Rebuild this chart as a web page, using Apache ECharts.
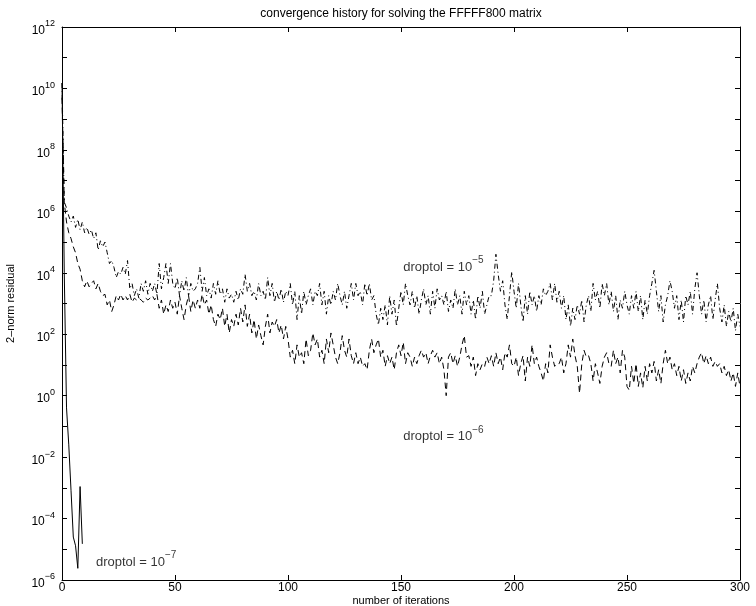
<!DOCTYPE html>
<html><head><meta charset="utf-8">
<script src="https://cdn.jsdelivr.net/npm/echarts@6/dist/echarts.min.js"></script>
<style>html,body{margin:0;padding:0;background:#fff}#c{width:756px;height:606px}</style>
</head><body><div id="c"></div>
<script>
const titleText = 'convergence history for solving the FFFFF800 matrix';
const xAxisName = 'number of iterations';
const yAxisName = '2\u2013norm residual';
const xMin = 0, xMax = 300, xStep = 50;
const yMinExp = -6, yMaxExp = 12;

// droptol = 1e-5 (dash-dot)
const residualTol5 = [
 1.5e10, 2e6, 1.3e6, 7e5, 4.5e5, 7e5, 3e5, 5.5e5, 2.5e5, 4.5e5,
 2e5, 3e5, 1.8e5, 2.5e5, 1.3e5, 2e5, 5.5e4, 1.1e5, 7e4, 1e5,
 4.5e4, 2e4, 2.5e4, 1.5e4, 7e3, 1.1e4, 9e3, 1.5e4, 9e3, 2.5e4,
 3e3, 4.5e3, 1.8e3, 3e3, 1.5e3, 4.5e3, 2.5e3, 5.5e3, 2e3, 4.5e3,
 2.5e3, 4.5e3, 2e3, 2e4, 3e3, 7e3, 2e4, 4.5e3, 2e4, 4.5e3,
 3e3, 7e3, 1.8e3, 5.5e3, 2.5e3, 7e3, 1.8e3, 4.5e3, 2.5e3, 3e3,
 4.5e3, 1.5e4, 2.5e3, 7e3, 1.8e3, 3e3, 1.5e3, 4.5e3, 2e3, 5.5e3,
 2e3, 3e3, 1.1e3, 3e3, 1.5e3, 2e3, 1.1e3, 2.5e3, 1.3e3, 3e3,
 2e3, 9e3, 2.5e3, 4.5e3, 1.8e3, 2.5e3, 1.3e3, 4.5e3, 1.8e3, 2.5e3,
 1.3e3, 7e3, 1.8e3, 4.5e3, 1.1e3, 2.5e3, 1.3e3, 3e3, 1.1e3, 2.5e3,
 1.8e3, 4.5e3, 9e2, 2.5e3, 3e2, 1.8e3, 4.5e2, 2.5e3, 9e2, 1.8e3,
 3e3, 9e2, 2.5e3, 1.8e3, 4.5e3, 9e2, 2.5e3, 4.5e2, 1.8e3, 9e2,
 2.5e3, 1.3e3, 4.5e3, 1.8e3, 9e2, 2.5e3, 7e2, 1.8e3, 4.5e3, 1.3e3,
 4.5e3, 1.8e3, 2.5e3, 9e2, 4.5e3, 1.8e3, 4.5e3, 1.3e3, 1.8e3, 4.5e2,
 2e2, 7e2, 3e2, 9e2, 2e2, 1.8e3, 4.5e2, 1.3e3, 1.8e2, 7e2,
 2.5e3, 9e2, 4.5e3, 1.8e3, 9e2, 2.5e3, 7e2, 1.8e3, 4.5e2, 1.3e3,
 3e3, 9e2, 1.8e3, 4.5e2, 2.5e3, 7e2, 3e3, 1.3e3, 1.8e3, 9e2,
 2.5e3, 5.5e2, 1.3e3, 7e2, 3e3, 9e2, 1.8e3, 4.5e2, 2.5e3, 9e2,
 1.8e3, 4.5e2, 1.3e3, 3e2, 1.8e3, 7e2, 2.5e3, 4.5e2, 9e2, 1.8e3,
 1.8e3, 5.5e3, 4e4, 9e3, 2.5e3, 5.5e3, 9e2, 3e2, 1.8e3, 1.1e4,
 2.5e3, 7e2, 4.5e3, 9e2, 2.5e2, 1.8e3, 4.5e2, 2.5e3, 9e2, 1.8e3,
 5.5e2, 1.8e3, 9e2, 3e3, 1.8e3, 2.5e3, 4.5e3, 1.3e3, 4.5e3, 1.1e3,
 2.5e3, 7e2, 1.8e3, 3e2, 9e2, 1.8e2, 7e2, 3e2, 9e2, 4.5e2,
 1.3e3, 2.5e2, 9e2, 1.8e3, 5.5e2, 4.5e3, 1.3e3, 2.5e3, 7e2, 4.5e3,
 1.8e3, 4.5e3, 9e2, 2.5e3, 5.5e2, 1.8e3, 3e2, 1.3e3, 7e2, 2.5e3,
 9e2, 4.5e2, 1.8e3, 7e2, 2.5e3, 5.5e2, 1.8e3, 3e2, 1.3e3, 4.5e2,
 1.8e3, 4.5e3, 1.2e4, 2.5e3, 5.5e2, 1.8e3, 2.5e2, 9e2, 1.8e3, 5.5e3,
 2.5e3, 7e2, 1.8e3, 3e2, 1.3e3, 2.5e2, 1.8e3, 9e2, 2.5e3, 4.5e2,
 3e3, 1e4, 1.8e3, 4.5e2, 1.3e3, 2.5e2, 9e2, 1.8e3, 3e2, 1.3e3,
 4.5e3, 7e2, 2.5e2, 9e2, 1.8e2, 5.5e2, 2.5e2, 7e2, 1.3e2, 4.5e2, 1.8e2
];

// droptol = 1e-6 (dashed)
const residualTol6 = [
 5e9, 2e6, 4.5e5, 2e5, 1.3e5, 7e4, 4.5e4, 2e4, 1.3e4, 5.5e3,
 3.5e3, 5.5e3, 3.5e3, 4.5e3, 5.5e3, 3e3, 4.5e3, 2.5e3, 1.8e3, 2e3,
 9e2, 1.3e3, 5.5e2, 9e2, 1.8e3, 1.3e3, 2e3, 1.3e3, 1.8e3, 1.3e3,
 2e3, 1.1e3, 1.5e3, 1.3e3, 1.5e3, 1.3e3, 1.1e3, 1.5e3, 1.3e3, 1.5e3,
 1.8e3, 1.3e3, 2e3, 7e2, 1.3e3, 4.5e2, 9e2, 5.5e2, 1.3e3, 7e2,
 1.1e3, 4.5e2, 1.8e3, 7e2, 3e2, 9e2, 1.8e3, 5.5e2, 1.3e3, 7e2,
 1.3e3, 7e2, 2e3, 9e2, 1.3e3, 4.5e2, 9e2, 3e2, 1.8e2, 4.5e2,
 3e2, 7e2, 1.8e2, 4.5e2, 1.1e2, 3e2, 1.8e2, 4.5e2, 2e2, 7e2,
 2.5e2, 9e2, 1.8e2, 4.5e2, 1.1e2, 3e2, 7e1, 2e2, 9e1, 4.5e1,
 1.8e2, 4.5e2, 1.1e2, 2.5e2, 1.8e2, 3e2, 1.1e2, 2e2, 7e1, 1.8e2,
 7e1, 1.8e1, 3e1, 1.1e1, 4.5e1, 1.8e1, 2.5e1, 1.1e1, 7e1, 2e1,
 3e1, 1.1e2, 4.5e1, 7e1, 1.8e1, 3e1, 1.1e1, 7e1, 2.5e1, 1.1e2,
 4.5e1, 1.8e1, 1.1e1, 2.5e1, 9e1, 3e1, 1.8e1, 7e1, 2e1, 1.1e1,
 2.5e1, 1.1e1, 1.8e1, 9e0, 1.1e1, 7e0, 3e1, 7e1, 2.5e1, 4.5e1,
 7e1, 1.8e1, 3e1, 9e0, 2e1, 1.1e1, 1.8e1, 7e0, 2.5e1, 4.5e1,
 2e1, 5.5e1, 1.1e1, 2.5e1, 1.8e1, 9e0, 1.8e1, 1.1e1, 2e1, 3e1,
 1.8e1, 2.5e1, 1.1e1, 2e1, 3e1, 1.8e1, 2.5e1, 1.1e1, 1.8e1, 7e0,
 1e0, 1.8e1, 2.5e1, 1.1e1, 2e1, 9e0, 1.8e1, 4.5e1, 9e1, 1.8e1,
 2e1, 9e0, 1.8e1, 4.5e0, 1.1e1, 7e0, 1.1e1, 9e0, 1.8e1, 1.1e1,
 2e1, 9e0, 2.5e1, 1.1e1, 1.8e1, 7e0, 2.5e1, 1.8e1, 4.5e1, 1.1e1,
 9e0, 1.8e1, 4.5e0, 1.1e1, 2e1, 3e0, 1.8e1, 9e0, 4.5e1, 1.1e1,
 1.8e1, 9e0, 5.5e0, 3e0, 1.1e1, 5.5e0, 4.5e1, 1.8e1, 9e0, 1.1e1,
 1.1e1, 1.8e1, 5.5e0, 1.1e1, 4.5e1, 1.8e1, 7e1, 2e1, 9e0, 1.2e0,
 1.1e1, 3e1, 1.8e1, 2e1, 1.1e1, 3e0, 1.1e1, 5.5e0, 2.5e0, 9e0,
 1.8e1, 2.5e1, 1.1e1, 9e0, 3e1, 1.1e1, 1.8e1, 5.5e0, 3e1, 1.8e1,
 2e0, 1.5e0, 9e0, 2.5e0, 1.1e1, 2e0, 5.5e0, 1.8e0, 9e0, 3e0,
 1.1e1, 5.5e0, 1.3e1, 3e0, 7e0, 2.5e0, 1.1e1, 3e1, 1.1e1, 1.8e1,
 7e0, 1.1e1, 4.5e0, 9e0, 3e0, 7e0, 2.5e0, 5.5e0, 3e0, 9e0,
 5.5e0, 1.1e1, 1.8e1, 2.5e1, 1.1e1, 2e1, 1.1e1, 1.8e1, 9e0, 1.3e1,
 9e0, 1.1e1, 5.5e0, 9e0, 4.5e0, 7e0, 3e0, 5.5e0, 2e0, 5.5e0, 2e0
];

// droptol = 1e-7 (solid)
const residualTol7 = [1.5e10, 1e4, 4e-1, 2.5e-2, 8e-4, 2.5e-5, 1.3e-5, 2.4e-6, 1.1e-3, 1.5e-5];

const annotationExponents = ['\u22125', '\u22126', '\u22127'];
const annotationIter = [151, 151, 15];
const annotationResidual = [2e4, 6e-2, 5e-6];

const FONT = 'Liberation Sans, Arial, Helvetica, sans-serif';
const toPairs = arr => arr.map((v, i) => [i, v]);

function expLabel(value) {
  const e = Math.round(Math.log10(value));
  if (e % 2 !== 0) return '';
  const s = e < 0 ? '\u2212' + (-e) : String(e);
  return '{b|10}{s|' + s + '}';
}
const richExp = {
  b: { fontSize: 12, fontFamily: FONT, color: '#000', padding: [7, 0, 0, 0] },
  s: { fontSize: 9, fontFamily: FONT, color: '#000', padding: [0, 0, 6, 0] }
};

const chart = echarts.init(document.getElementById('c'), null, { renderer: 'canvas' });

const axisCommon = {
  axisLine: { show: true, onZero: false, lineStyle: { color: '#000', width: 1 } },
  axisTick: { show: true, inside: true, length: 5, lineStyle: { color: '#000', width: 1 } },
  splitLine: { show: false },
  minorTick: { show: false }
};

chart.setOption({
  animation: false,
  backgroundColor: '#fff',
  title: {
    text: titleText, left: 396, top: 3, textAlign: 'center',
    textStyle: { fontSize: 12, fontWeight: 'normal', fontFamily: FONT, color: '#000' }
  },
  grid: { left: 62, right: 16, top: 27, bottom: 26, containLabel: false, outerBoundsMode: 'none' },
  xAxis: [
    Object.assign({}, axisCommon, {
      type: 'value', min: xMin, max: xMax, interval: xStep, position: 'bottom',
      name: xAxisName, nameLocation: 'middle', nameGap: 15, nameMoveOverlap: false,
      nameTextStyle: { fontSize: 11, fontFamily: FONT, color: '#000' },
      axisLabel: { fontSize: 12, fontFamily: FONT, color: '#000', margin: 2 }
    }),
    Object.assign({}, axisCommon, {
      type: 'value', min: xMin, max: xMax, interval: xStep, position: 'top',
      axisLabel: { show: false }
    })
  ],
  yAxis: [
    Object.assign({}, axisCommon, {
      type: 'log', logBase: 10, min: Math.pow(10, yMinExp), max: Math.pow(10, yMaxExp), interval: 1,
      position: 'left',
      name: yAxisName, nameLocation: 'middle', nameGap: 46, nameRotate: 90, nameMoveOverlap: false,
      nameTextStyle: { fontSize: 11, fontFamily: FONT, color: '#000' },
      axisLabel: { formatter: expLabel, rich: richExp, margin: 7, showMinLabel: true, showMaxLabel: true }
    }),
    Object.assign({}, axisCommon, {
      type: 'log', logBase: 10, min: Math.pow(10, yMinExp), max: Math.pow(10, yMaxExp), interval: 1,
      position: 'right',
      axisLabel: { show: false }
    })
  ],
  series: [
    {
      name: 'droptol 1e-5', type: 'line', data: toPairs(residualTol5), showSymbol: false, symbol: 'none',
      lineStyle: { color: '#000', width: 1, type: [5, 3, 1, 3] }, z: 3
    },
    {
      name: 'droptol 1e-6', type: 'line', data: toPairs(residualTol6), showSymbol: false, symbol: 'none',
      lineStyle: { color: '#000', width: 1, type: [6, 4] }, z: 3
    },
    {
      name: 'droptol 1e-7', type: 'line', data: toPairs(residualTol7), showSymbol: false, symbol: 'none',
      lineStyle: { color: '#000', width: 1, type: 'solid' }, z: 4
    },
    {
      name: 'labels', type: 'scatter', symbolSize: 0, silent: true,
      data: annotationIter.map((x, i) => [x, annotationResidual[i], annotationExponents[i]]),
      label: {
        show: true, position: 'right', distance: 0,
        formatter: p => '{t|droptol = 10}{s|' + p.value[2] + '}',
        rich: {
          t: { fontSize: 13, fontFamily: FONT, color: '#000', padding: [7, 0, 0, 0] },
          s: { fontSize: 10, fontFamily: FONT, color: '#000', padding: [0, 0, 6, 0] }
        }
      }
    }
  ]
});
</script></body></html>
